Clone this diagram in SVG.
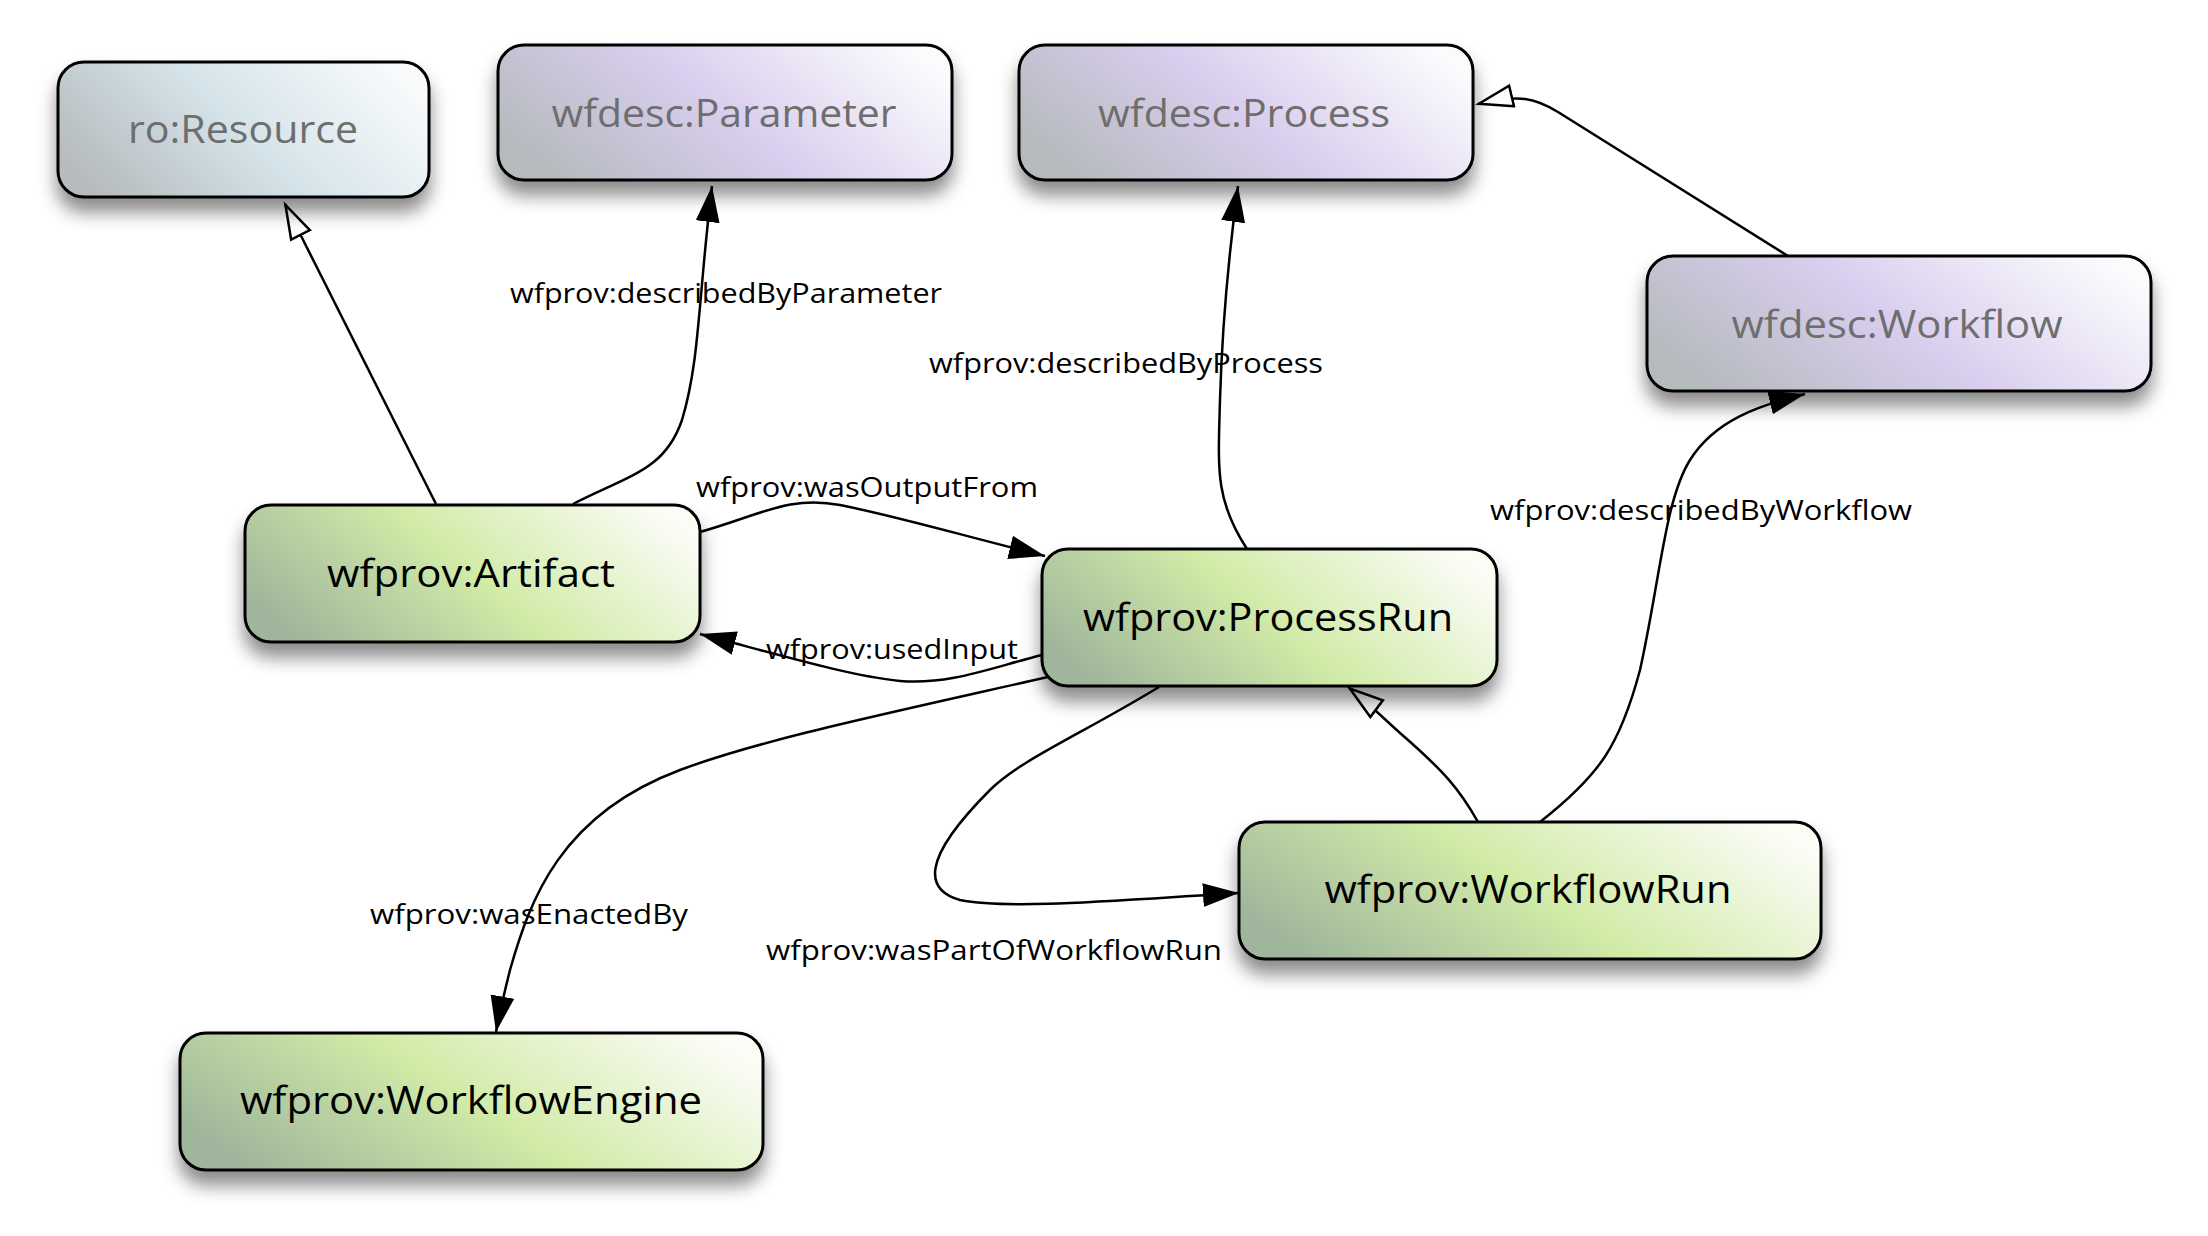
<svg xmlns="http://www.w3.org/2000/svg" width="2208" height="1236" viewBox="0 0 2208 1236">
<defs>
<linearGradient id="gGreen" x1="0" y1="0.68" x2="1" y2="0.32">
<stop offset="0" stop-color="#9fb59c"/><stop offset="0.5" stop-color="#d1eba7"/><stop offset="1" stop-color="#fafcf5"/>
</linearGradient>
<linearGradient id="gPurple" x1="0" y1="0.68" x2="1" y2="0.32">
<stop offset="0" stop-color="#b5babd"/><stop offset="0.5" stop-color="#d9ceee"/><stop offset="1" stop-color="#fbfafd"/>
</linearGradient>
<linearGradient id="gBlue" x1="0" y1="0.68" x2="1" y2="0.32">
<stop offset="0" stop-color="#b6bbbe"/><stop offset="0.5" stop-color="#d5e4ea"/><stop offset="1" stop-color="#f8fafb"/>
</linearGradient>
<filter id="shadow" x="-10%" y="-10%" width="120%" height="150%">
<feDropShadow dx="0" dy="14" stdDeviation="9" flood-color="#000" flood-opacity="0.45"/>
</filter>
<marker id="arrow" markerUnits="userSpaceOnUse" markerWidth="40" markerHeight="30" refX="36" refY="12" orient="auto">
<path d="M0,0 L36,12 L0,24 Z" fill="#000"/>
</marker>
<marker id="hollow" markerUnits="userSpaceOnUse" markerWidth="40" markerHeight="30" refX="36" refY="12" orient="auto">
<path d="M1.5,1.5 L35,12 L1.5,22.5 Z" fill="#fff" stroke="#000" stroke-width="2.5"/>
</marker>
<style>
.box{stroke:#000;stroke-width:3;filter:url(#shadow)}
.gray{font-family:"Open Sans","Noto Sans","DejaVu Sans",sans-serif;font-size:38px;fill:#6e6e6e;text-anchor:middle}
.dark{font-family:"Open Sans","Noto Sans","DejaVu Sans",sans-serif;font-size:38px;fill:#000;text-anchor:middle}
.lbl{font-family:"Open Sans","Noto Sans","DejaVu Sans",sans-serif;font-size:27px;fill:#000;text-anchor:middle}
.e{fill:none;stroke:#000;stroke-width:2.5}
</style>
</defs>
<rect width="2208" height="1236" fill="#fff"/>

<g id="connectors">
<path class="e" d="M436,504 L285,204" marker-end="url(#hollow)"/>
<path class="e" d="M573,504 C630,475 665,470 682,420 C700,360 698,300 712,186" marker-end="url(#arrow)"/>
<path class="e" d="M1247,549 C1215,500 1218,470 1220,400 C1222,330 1228,260 1238,186" marker-end="url(#arrow)"/>
<path class="e" d="M1788,256 L1558,112 C1535,98 1520,94 1478,104" marker-end="url(#hollow)"/>
<path class="e" d="M700,532 C760,515 790,495 840,505 C900,517 960,535 1045,556" marker-end="url(#arrow)"/>
<path class="e" d="M1042,655 C990,668 950,685 900,681 C850,676 780,655 700,634" stroke="#808080" marker-end="url(#arrow)"/>
<path class="e" d="M1048,677 C880,715 760,740 680,770 C560,815 530,900 510,970 C505,990 500,1010 496,1032" marker-end="url(#arrow)"/>
<path class="e" d="M1159,687 C1080,735 1020,760 990,790 C920,860 925,890 960,900 C1010,910 1120,900 1239,893" marker-end="url(#arrow)"/>
<path class="e" d="M1478,822 C1460,790 1445,772 1400,733 C1380,715 1365,700 1349,688" marker-end="url(#hollow)"/>
<path class="e" d="M1540,822 C1600,775 1620,745 1640,670 C1660,580 1665,500 1690,460 C1715,420 1760,405 1805,394" marker-end="url(#arrow)"/>
<g class="lbl">
<text x="726" y="303" textLength="432" lengthAdjust="spacingAndGlyphs">wfprov:describedByParameter</text>
<text x="1126" y="373" textLength="394" lengthAdjust="spacingAndGlyphs">wfprov:describedByProcess</text>
<text x="867" y="497" textLength="342" lengthAdjust="spacingAndGlyphs">wfprov:wasOutputFrom</text>
<text x="892" y="659" textLength="252" lengthAdjust="spacingAndGlyphs">wfprov:usedInput</text>
<text x="1701" y="520" textLength="422" lengthAdjust="spacingAndGlyphs">wfprov:describedByWorkflow</text>
<text x="529" y="924" textLength="318" lengthAdjust="spacingAndGlyphs">wfprov:wasEnactedBy</text>
<text x="994" y="960" textLength="456" lengthAdjust="spacingAndGlyphs">wfprov:wasPartOfWorkflowRun</text>
</g>
</g>

<g id="ro-Resource">
<rect class="box" x="58" y="62" width="371" height="135" rx="26" fill="url(#gBlue)"/>
<text class="gray" x="243" y="143" textLength="230" lengthAdjust="spacingAndGlyphs">ro:Resource</text>
</g>
<g id="wfdesc-Parameter">
<rect class="box" x="498" y="45" width="454" height="135" rx="26" fill="url(#gPurple)"/>
<text class="gray" x="724" y="127" textLength="345" lengthAdjust="spacingAndGlyphs">wfdesc:Parameter</text>
</g>
<g id="wfdesc-Process">
<rect class="box" x="1019" y="45" width="454" height="135" rx="26" fill="url(#gPurple)"/>
<text class="gray" x="1244" y="127" textLength="292" lengthAdjust="spacingAndGlyphs">wfdesc:Process</text>
</g>
<g id="wfdesc-Workflow">
<rect class="box" x="1647" y="256" width="504" height="135" rx="26" fill="url(#gPurple)"/>
<text class="gray" x="1897" y="338" textLength="331" lengthAdjust="spacingAndGlyphs">wfdesc:Workflow</text>
</g>
<g id="wfprov-Artifact">
<rect class="box" x="245" y="505" width="455" height="137" rx="26" fill="url(#gGreen)"/>
<text class="dark" x="471" y="587" textLength="288" lengthAdjust="spacingAndGlyphs">wfprov:Artifact</text>
</g>
<g id="wfprov-ProcessRun">
<rect class="box" x="1042" y="549" width="455" height="137" rx="26" fill="url(#gGreen)"/>
<text class="dark" x="1268" y="631" textLength="370" lengthAdjust="spacingAndGlyphs">wfprov:ProcessRun</text>
</g>
<g id="wfprov-WorkflowRun">
<rect class="box" x="1239" y="822" width="582" height="137" rx="26" fill="url(#gGreen)"/>
<text class="dark" x="1528" y="903" textLength="407" lengthAdjust="spacingAndGlyphs">wfprov:WorkflowRun</text>
</g>
<g id="wfprov-WorkflowEngine">
<rect class="box" x="180" y="1033" width="583" height="137" rx="26" fill="url(#gGreen)"/>
<text class="dark" x="471" y="1114" textLength="462" lengthAdjust="spacingAndGlyphs">wfprov:WorkflowEngine</text>
</g>
</svg>
